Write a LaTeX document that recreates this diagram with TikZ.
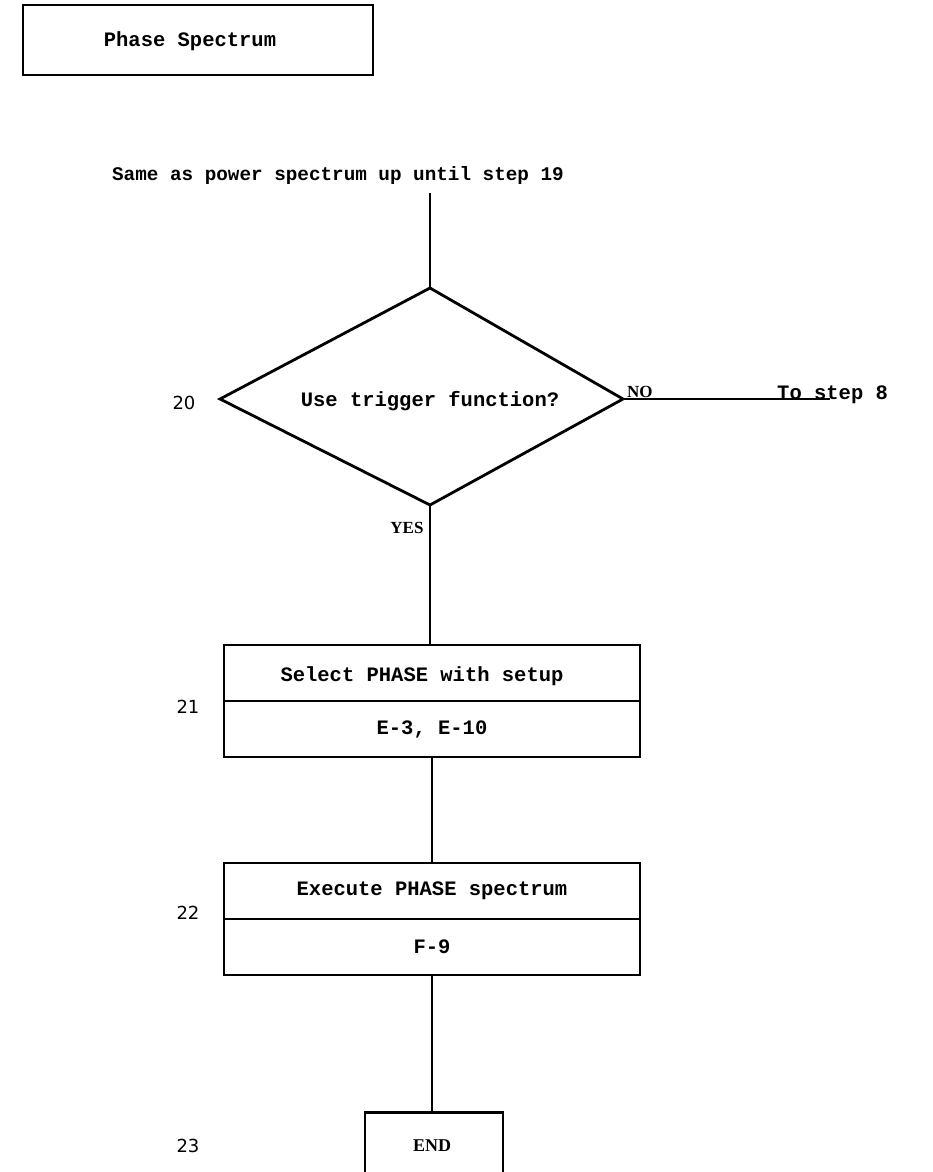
\documentclass[tikz,border=0pt]{standalone}
\usepackage{fontspec}
\setmainfont{Liberation Serif}
\newfontfamily\courfont{Liberation Mono}
\newfontfamily\numfont{DejaVu Sans}
\begin{document}
\begin{tikzpicture}[x=1pt,y=-1pt,
  txt/.style={font=\courfont\bfseries\fontsize{20.5}{24}\selectfont, inner sep=0pt},
  smalltxt/.style={font=\courfont\bfseries\fontsize{19.3}{23}\selectfont, inner sep=0pt},
  stepnum/.style={font=\numfont\fontsize{18}{20}\selectfont, inner sep=0pt},
  answer/.style={font=\bfseries\fontsize{17}{20}\selectfont, inner sep=0pt},
  frame/.style={draw, line width=2.8pt, inner sep=0pt},
  halfbox/.style={draw, line width=1.6pt, inner sep=0pt, outer sep=0pt,
                  minimum width=416pt, minimum height=56pt, anchor=north},
  outline/.style={line width=2.8pt},
  wire/.style={line width=2pt},
]
\useasboundingbox (0,0) rectangle (932,1172);
\clip (0,0) rectangle (932,1172);

% title
\node[frame, minimum width=350pt, minimum height=70pt] (title) at (198,40) {};
\node[txt] (titletext) at (190,41) {Phase Spectrum};

% entry text
\node[smalltxt] (start) at (338,176) {Same as power spectrum up until step 19};

% decision 20
\coordinate (dtop) at (430,288);
\coordinate (dright) at (623,399);
\coordinate (dbot) at (430,505);
\coordinate (dleft) at (220,399);
\draw[line width=2.8pt, line join=miter] (dtop) -- (dright) -- (dbot) -- (dleft) -- cycle;
\node[txt] (question) at (430,401) {Use trigger function?};
\node[stepnum] (n20) at (184,403) {20};

\draw[wire] ([yshift=-8pt]start.south -| dtop) -- (dtop);

% NO branch
\coordinate (noend) at (830,399);
\draw[wire] (dright) -- (noend);
\node[answer, anchor=base west] (no) at (627,397) {NO};
\node[txt, anchor=base west] (tostep) at (777,399) {To step 8};

% YES branch
\node[answer] (yes) at (407,528) {YES};

% step 21
\node[halfbox] (s21a) at (432,645) {};
\node[halfbox] (s21b) at (s21a.south) {};
\draw[outline] (s21a.north west) rectangle (s21b.south east);
\node[txt] at (422,676) {Select PHASE with setup};
\node[txt] at (s21b.center) {E-3, E-10};
\node[stepnum] (n21) at (188,707) {21};
\draw[wire] (dbot) -- (dbot |- s21a.north);

% step 22
\node[halfbox] (s22a) at (432,863) {};
\node[halfbox] (s22b) at (s22a.south) {};
\draw[outline] (s22a.north west) rectangle (s22b.south east);
\node[txt] at (s22a.center) {Execute PHASE spectrum};
\node[txt] at (s22b.center) {F-9};
\node[stepnum] (n22) at (188,913) {22};
\draw[wire] (s21b.south) -- (s22a.north);

% end
\node[frame, minimum width=138pt, minimum height=75pt, anchor=north] (finish) at (434,1111) {};
\node[answer, font=\bfseries\fontsize{18}{20}\selectfont] (endtext) at (432,1146) {END};
\node[stepnum] (n23) at (188,1146) {23};
\draw[wire] (s22b.south) -- (s22b.south |- finish.north);
\end{tikzpicture}
\end{document}
